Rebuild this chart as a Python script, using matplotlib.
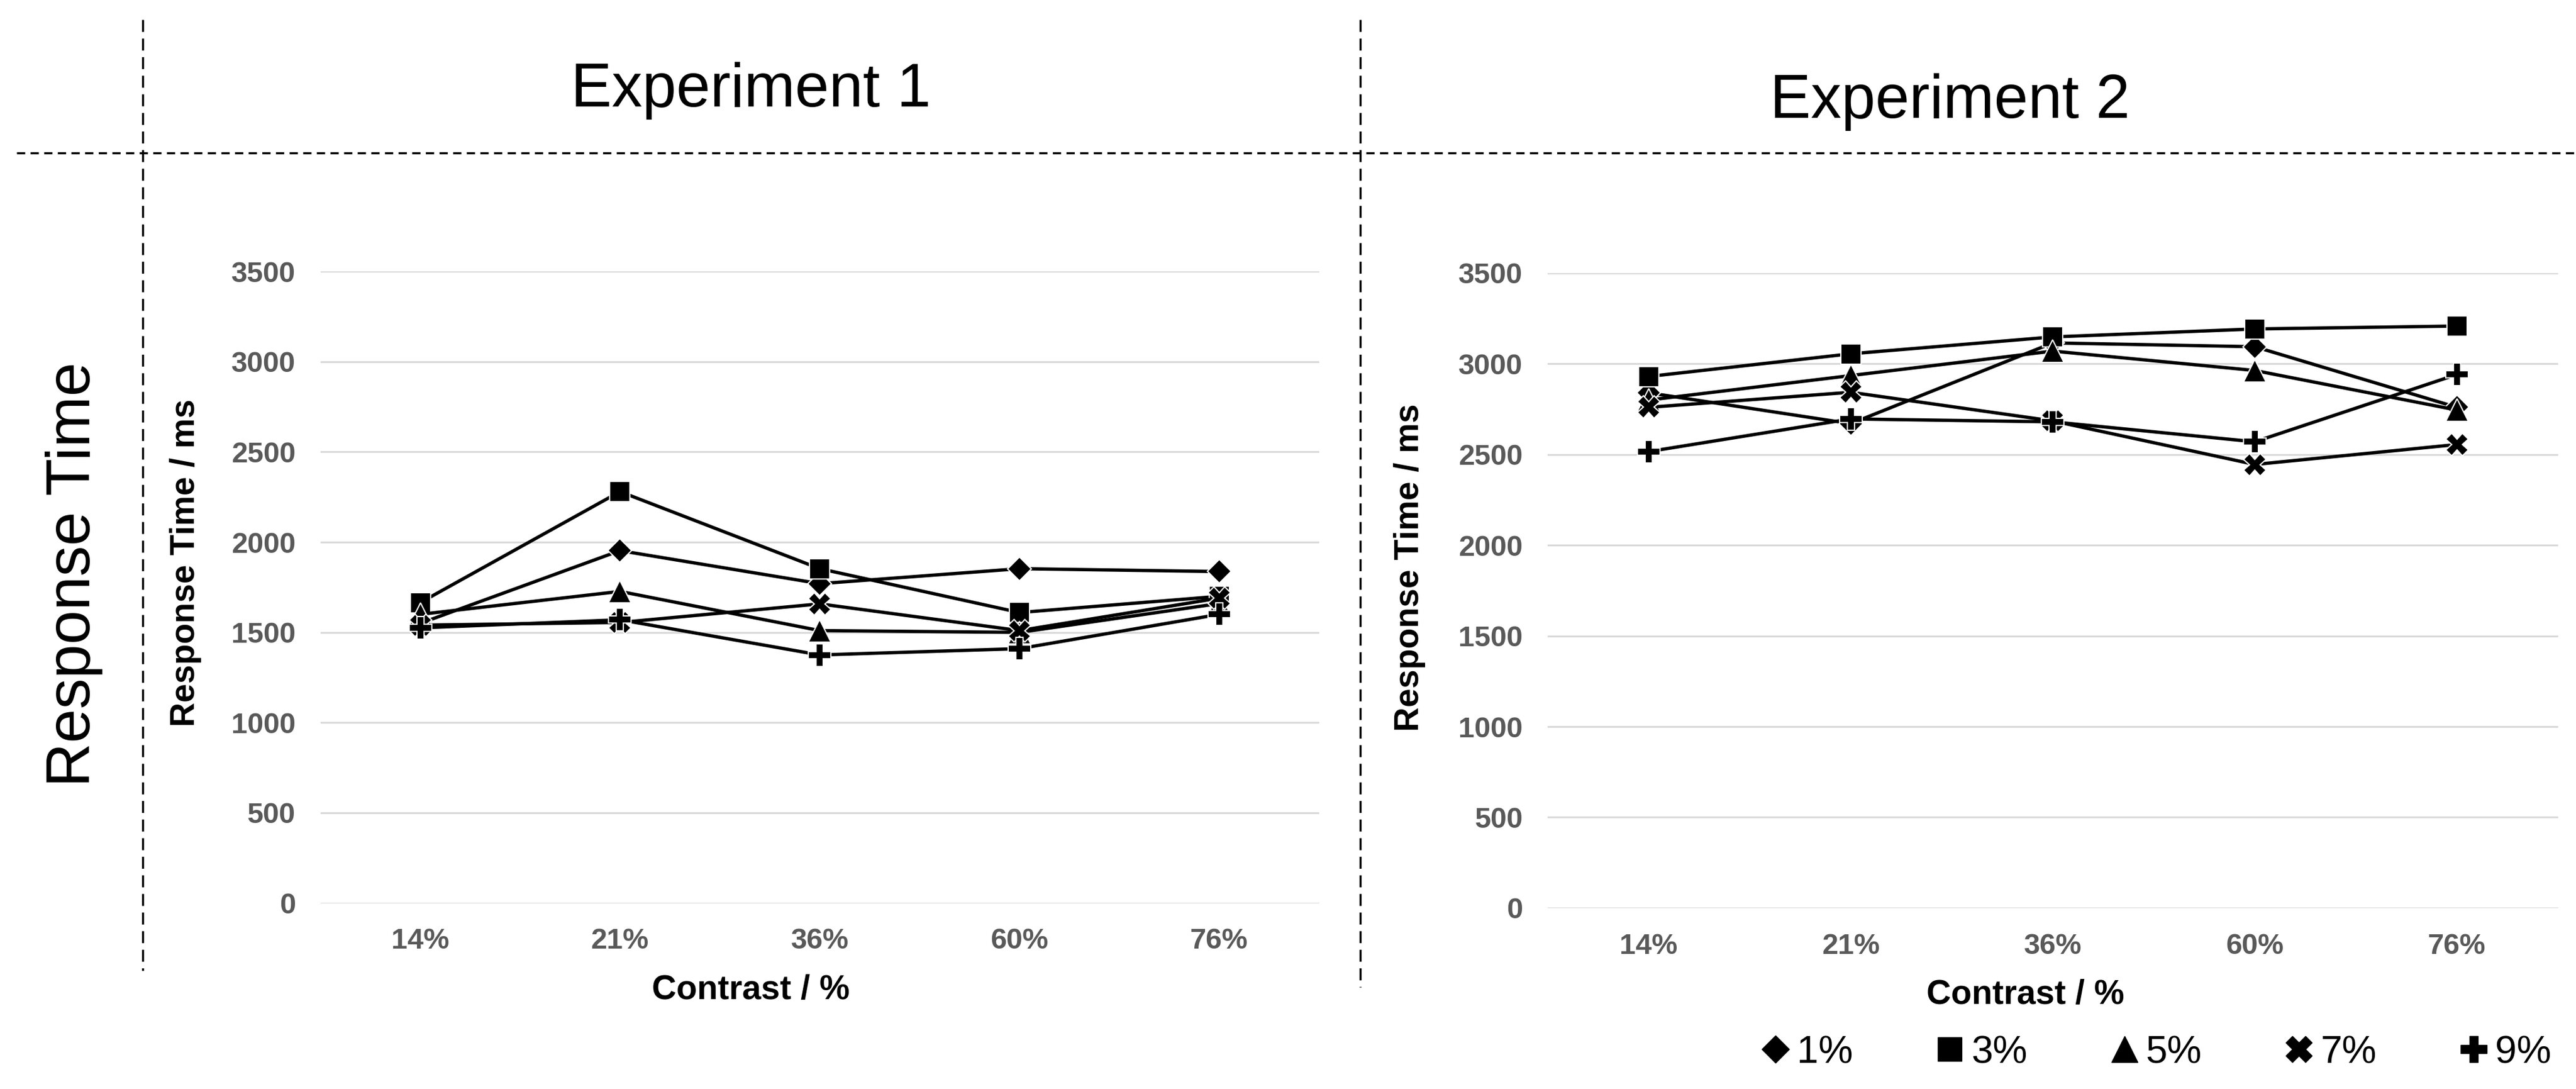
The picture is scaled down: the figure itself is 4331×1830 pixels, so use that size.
import matplotlib
matplotlib.use("Agg")
import matplotlib.pyplot as plt
from matplotlib.lines import Line2D

plt.rcParams['font.family'] = ['Liberation Sans', 'DejaVu Sans']

# datos
contraste = ["14%", "21%", "36%", "60%", "76%"]
series = ["1%", "3%", "5%", "7%", "9%"]

exp1_1 = [1550, 1953, 1770, 1853, 1837]
exp1_3 = [1665, 2280, 1853, 1610, 1700]
exp1_5 = [1600, 1727, 1510, 1500, 1660]
exp1_7 = [1540, 1555, 1658, 1510, 1690]
exp1_9 = [1525, 1570, 1375, 1410, 1600]

exp2_1 = [2840, 2670, 3115, 3094, 2760]
exp2_3 = [2930, 3055, 3148, 3192, 3208]
exp2_5 = [2800, 2935, 3070, 2963, 2745]
exp2_7 = [2760, 2843, 2685, 2445, 2555]
exp2_9 = [2516, 2696, 2680, 2570, 2941]

yticks = [0, 500, 1000, 1500, 2000, 2500, 3000, 3500]

marcadores = ['D', 's', '^', 'X', 'P']
tamanos = [20, 25, 27, 27, 27]

fig = plt.figure(figsize=(43.31, 18.30), dpi=100)

W, H = 1568.0, 662.0  # coordenadas de referencia


def caja(x0, x1, y0, y1):
    return [x0 / W, 1 - y1 / H, (x1 - x0) / W, (y1 - y0) / H]


def grafica(ax, datos):
    x = range(len(contraste))
    for vals, m, ms in zip(datos, marcadores, tamanos):
        ax.plot(x, vals, color='black', lw=4, marker=m, markersize=ms,
                markerfacecolor='black', markeredgecolor='white',
                markeredgewidth=1.5, zorder=3)
    ax.set_xlim(-0.5, 4.5)
    ax.set_ylim(0, 3500)
    ax.set_yticks(yticks)
    ax.set_xticks(list(x))
    ax.set_xticklabels(contraste)
    ax.grid(axis='y', color='#d9d9d9', lw=2.2)
    ax.set_axisbelow(True)
    for s in ax.spines.values():
        s.set_visible(False)
    ax.tick_params(length=0, labelsize=35, labelcolor='#595959', pad=30)
    for t in ax.get_xticklabels() + ax.get_yticklabels():
        t.set_fontweight('bold')


ax1 = fig.add_axes(caja(195, 803, 165, 549))
grafica(ax1, [exp1_1, exp1_3, exp1_5, exp1_7, exp1_9])

ax2 = fig.add_axes(caja(942, 1557, 166, 552))
grafica(ax2, [exp2_1, exp2_3, exp2_5, exp2_7, exp2_9])

# etiquetas de ejes
fig.text(113 / W, 1 - 342 / H, "Response Time / ms", rotation=90, ha='center', va='center',
         fontsize=41, fontweight='bold')
fig.text(858 / W, 1 - 345 / H, "Response Time / ms", rotation=90, ha='center', va='center',
         fontsize=41, fontweight='bold')
fig.text(457 / W, 1 - 602 / H, "Contrast / %", ha='center', va='center',
         fontsize=41, fontweight='bold')
fig.text(1233 / W, 1 - 605 / H, "Contrast / %", ha='center', va='center',
         fontsize=41, fontweight='bold')

# titulos
fig.text(457 / W, 1 - 55 / H, "Experiment 1", ha='center', va='center', fontsize=74)
fig.text(1187 / W, 1 - 62 / H, "Experiment 2", ha='center', va='center', fontsize=74)
fig.text(45 / W, 1 - 349 / H, "Response Time", rotation=90, ha='center', va='center', fontsize=74)

# lineas punteadas
fig.add_artist(Line2D([87 / W, 87 / W], [1 - 12 / H, 1 - 590 / H], transform=fig.transFigure,
                      color='black', lw=2.5, linestyle=(0, (5.8, 3.2))))
fig.add_artist(Line2D([828 / W, 828 / W], [1 - 12 / H, 1 - 600 / H], transform=fig.transFigure,
                      color='black', lw=2.5, linestyle=(0, (5.8, 3.2))))
fig.add_artist(Line2D([10 / W, 1], [1 - 93 / H, 1 - 93 / H], transform=fig.transFigure,
                      color='black', lw=2.5, linestyle=(0, (4, 2.6))))

# leyenda
handles = [Line2D([], [], linestyle='none', marker=m, markersize=ms * 1.15, color='black')
           for m, ms in zip(marcadores, tamanos)]
fig.legend(handles, series, loc='center', bbox_to_anchor=(1312 / W, 1 - 640 / H), ncol=5,
           frameon=False, fontsize=47, handlelength=0.8, handletextpad=0.15,
           columnspacing=2.1, borderpad=0)

fig.savefig("out.png", dpi=100)
